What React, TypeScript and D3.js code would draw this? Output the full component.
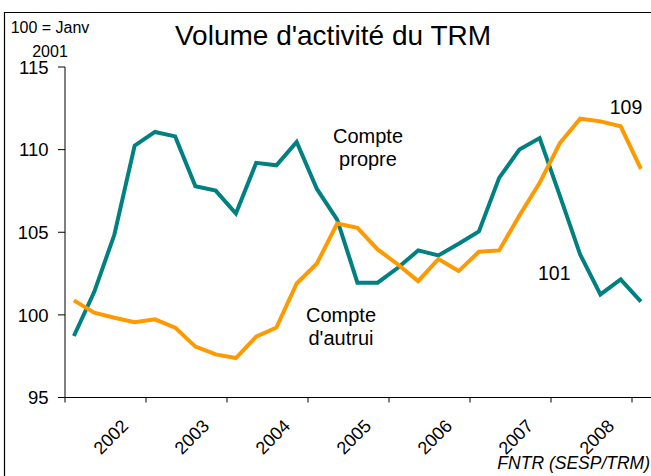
import React from "react";
import * as d3 from "d3";

const years = ["2002", "2003", "2004", "2005", "2006", "2007", "2008"];
const yTicks = [95, 100, 105, 110, 115];

// quarterly index values, 2002 Q1 .. 2009 Q1
const comptePropre = [
  98.72, 101.38, 104.86, 110.24, 111.07, 110.8, 107.78, 107.52, 106.13, 109.2,
  109.05, 110.47, 107.62, 105.77, 101.95, 101.95, 102.85, 103.9, 103.6, 104.3,
  105.05, 108.29, 110.0, 110.7, 107.2, 103.65, 101.24, 102.14, 100.8,
];
const compteAutrui = [
  100.88, 100.13, 99.83, 99.56, 99.73, 99.23, 98.08, 97.61, 97.39, 98.68,
  99.23, 101.9, 103.11, 105.53, 105.27, 103.96, 103.05, 102.04, 103.38, 102.65,
  103.82, 103.9, 106.01, 107.99, 110.4, 111.87, 111.71, 111.41, 108.83,
];

const W = 651;
const H = 476;
const FONT = "'Liberation Sans', Arial, Helvetica, sans-serif";

export default function App() {
  const x0 = 65;
  const yearW = 81;
  const x = d3.scaleLinear().domain([0, 32]).range([x0, x0 + 8 * yearW]);
  const y = d3.scaleLinear().domain([95, 115]).range([397.5, 67]);
  const px = (i: number) => x(i + 0.44);

  const line = d3
    .line<number>()
    .x((_, i) => px(i))
    .y((d) => y(d));

  const tickQ = d3.range(0, 33, 4);

  return (
    <svg
      width={W}
      height={H}
      style={{ position: "absolute", left: 0, top: 0, background: "#fff" }}
      fontFamily={FONT}
    >
      <rect x={0} y={0} width={W} height={H} fill="#fff" />
      {/* frame */}
      <path d={`M4.5,${H} V12.5 H${W}`} fill="none" stroke="#000" strokeWidth={1.2} />

      {/* corner note */}
      <text x={50} y={32.5} fontSize={16} textAnchor="middle" fill="#000">
        100 = Janv
      </text>
      <text x={50} y={56.5} fontSize={16} textAnchor="middle" fill="#000">
        2001
      </text>

      {/* title */}
      <text x={333} y={44.5} fontSize={28} textAnchor="middle" fill="#000">
        Volume d'activité du TRM
      </text>

      {/* y axis */}
      <line x1={x0} x2={x0} y1={y(115)} y2={y(95)} stroke="#000" strokeWidth={1} />
      {yTicks.map((t) => (
        <g key={t}>
          <line x1={x0 - 7} x2={x0} y1={y(t)} y2={y(t)} stroke="#000" strokeWidth={1} />
          <text
            x={48.5}
            y={y(t)}
            dy="0.36em"
            fontSize={18.5}
            textAnchor="end"
            fill="#000"
          >
            {t}
          </text>
        </g>
      ))}

      {/* x axis */}
      <line x1={x0} x2={W} y1={y(95)} y2={y(95)} stroke="#000" strokeWidth={1} />
      {tickQ.map((q) => (
        <line
          key={q}
          x1={x(q)}
          x2={x(q)}
          y1={y(95)}
          y2={y(95) + 5}
          stroke="#000"
          strokeWidth={1}
        />
      ))}
      {years.map((yr, k) => {
        const cx = x(k * 4 + 2);
        return (
          <text
            key={yr}
            transform={`translate(${cx + 9.6},${441.3}) rotate(-45)`}
            fontSize={18}
            textAnchor="middle"
            fill="#000"
          >
            {yr}
          </text>
        );
      })}

      {/* series */}
      <path d={line(comptePropre) || ""} fill="none" stroke="#008080" strokeWidth={4} strokeLinejoin="miter" />
      <path d={line(compteAutrui) || ""} fill="none" stroke="#FF9900" strokeWidth={4} strokeLinejoin="miter" />

      {/* labels */}
      <text x={368} y={142.5} fontSize={20} textAnchor="middle" fill="#000">
        Compte
      </text>
      <text x={368} y={166} fontSize={20} textAnchor="middle" fill="#000">
        propre
      </text>
      <text x={341} y={321.5} fontSize={20} textAnchor="middle" fill="#000">
        Compte
      </text>
      <text x={341} y={345} fontSize={20} textAnchor="middle" fill="#000">
        d'autrui
      </text>
      <text x={626} y={113.5} fontSize={19.5} textAnchor="middle" fill="#000">
        109
      </text>
      <text x={554.3} y={280} fontSize={19.5} textAnchor="middle" fill="#000">
        101
      </text>

      {/* source */}
      <text x={650} y={469} fontSize={17.5} fontStyle="italic" textAnchor="end" fill="#000">
        FNTR (SESP/TRM)
      </text>
    </svg>
  );
}
